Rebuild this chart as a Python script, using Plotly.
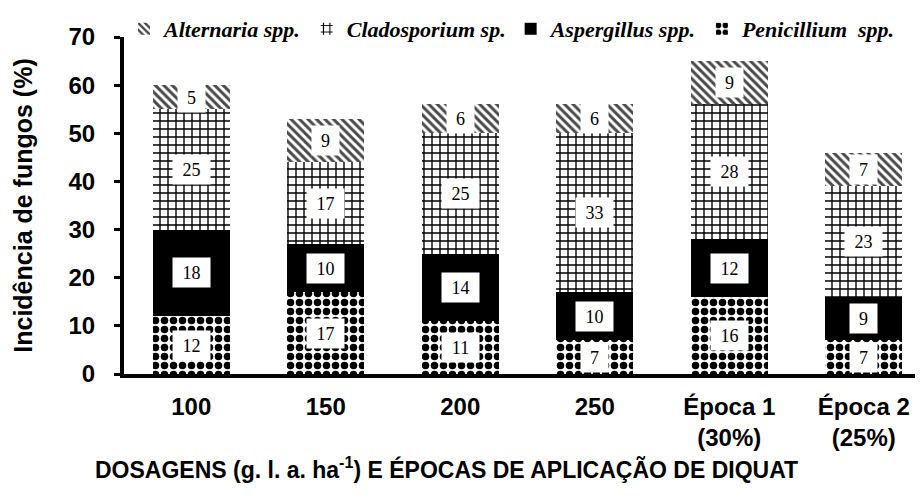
import plotly.graph_objects as go

categories = ["100", "150", "200", "250", "Época 1<br>(30%)", "Época 2<br>(25%)"]
penicillium = [12, 17, 11, 7, 16, 7]
aspergillus = [18, 10, 14, 10, 12, 9]
cladosporium = [25, 17, 25, 33, 28, 23]
alternaria = [5, 9, 6, 6, 9, 7]

series = [
    ("Penicillium  spp.", penicillium, dict(shape=".", fgcolor="black", bgcolor="white", size=9, solidity=0.55, fgopacity=1), "white"),
    ("Aspergillus spp.", aspergillus, dict(shape="", fgcolor="black", bgcolor="black"), "black"),
    ("Cladosporium sp.", cladosporium, dict(shape="+", fgcolor="black", bgcolor="white", size=8, solidity=0.32, fgopacity=1), "white"),
    ("Alternaria spp.", alternaria, dict(shape="\\", fgcolor="#4a4a4a", bgcolor="white", size=6, solidity=0.5, fgopacity=1), "white"),
]

fig = go.Figure()
for name, vals, pat, col in series:
    fig.add_trace(go.Bar(
        x=categories, y=vals, name="<b><i>" + name + "</i></b>",
        marker=dict(color=col, pattern=pat, line=dict(width=0)),
    ))

# value labels at segment midpoints (x given as category index)
base = [0] * len(categories)
annotations = []
for name, vals, pat, col in series:
    for i, v in enumerate(vals):
        mid = base[i] + v / 2
        base[i] += v
        annotations.append(dict(
            x=i, y=mid, xref="x", yref="y", text=str(v), showarrow=False,
            font=dict(family="Liberation Serif", size=18, color="black"),
            bgcolor="white", borderpad=3, width=21 if v < 10 else 31, height=23,
        ))

# x-axis title (placed as paper annotation to match reference offset)
annotations.append(dict(
    x=0.400, y=-0.28, xref="paper", yref="paper", xanchor="center", yanchor="middle",
    text="<b>DOSAGENS (g. l. a. ha<sup>-1</sup>) E ÉPOCAS DE APLICAÇÃO DE DIQUAT</b>",
    showarrow=False, font=dict(family="Arial", size=23, color="black"),
))

fig.update_layout(
    barmode="stack",
    bargap=0.425,
    width=923, height=498,
    margin=dict(l=116, r=0, t=29, b=132),
    plot_bgcolor="white", paper_bgcolor="white",
    annotations=annotations,
    legend=dict(
        orientation="h", x=0.0, xanchor="left", y=1.025, yanchor="middle",
        traceorder="reversed", itemwidth=30,
        font=dict(family="Liberation Serif", size=22, color="black"),
        bgcolor="rgba(0,0,0,0)", tracegroupgap=0,
    ),
    showlegend=True,
)

fig.update_yaxes(
    range=[0, 70], dtick=10, showgrid=False, zeroline=False, automargin=False,
    showline=True, linecolor="black", linewidth=4,
    ticks="outside", ticklen=6, tickwidth=3, tickcolor="black",
    tickfont=dict(family="Arial", size=24, color="black", weight="bold"),
    ticklabelstandoff=14,
    title=dict(text="<b>Incidência de fungos (%)</b>", font=dict(family="Arial", size=25, color="black"), standoff=30),
)
fig.update_xaxes(
    type="category", automargin=False,
    showgrid=False, showline=True, linecolor="black", linewidth=4, ticks="",
    tickfont=dict(family="Arial", size=24, color="black", weight="bold"),
    ticklabelstandoff=8,
)

fig.write_html("out.html")
